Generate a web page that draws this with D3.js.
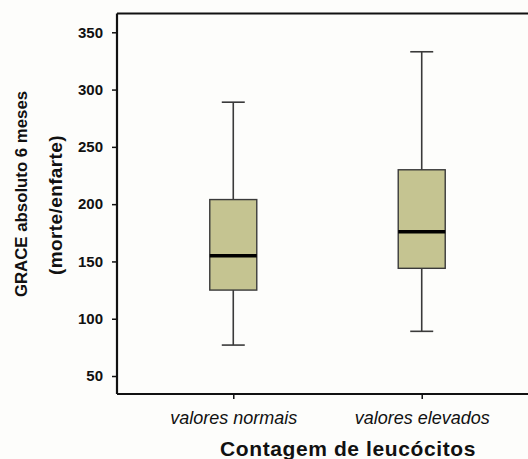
<!DOCTYPE html>
<html>
<head>
<meta charset="utf-8">
<script src="https://cdn.jsdelivr.net/npm/d3@7"></script>
<style>
  body { margin: 0; background: #fdfdfb; }
  svg { display: block; }
  text { font-family: "Liberation Sans", Arial, sans-serif; fill: #111; }
</style>
</head>
<body>
<div id="chart"></div>
<script>
// categories and box statistics
var groups = ["valores normais", "valores elevados"];
var whiskerLow  = [77, 89];
var q1          = [125, 144];
var median      = [155, 176];
var q3          = [204, 230];
var whiskerHigh = [289, 333];
var yTicks = [50, 100, 150, 200, 250, 300, 350];

var width = 528, height = 459;
var margin = {top: 13.5, left: 117, bottom: 394, right: 538};

var svg = d3.select("#chart").append("svg")
	.attr("width", width)
	.attr("height", height);

svg.append("rect")
	.attr("width", width).attr("height", height)
	.attr("fill", "#fdfdfb");

var x = d3.scalePoint()
	.domain(groups)
	.range([margin.left, margin.right])
	.padding(0.617);

var y = d3.scaleLinear()
	.domain([34.3, 366.4])
	.range([margin.bottom, margin.top]);

var boxW = 47, capW = 23;

var data = groups.map(function(g, i) {
	return {g: g, lo: whiskerLow[i], q1: q1[i], med: median[i], q3: q3[i], hi: whiskerHigh[i]};
});

// top frame line
svg.append("line")
	.attr("x1", margin.left).attr("x2", width)
	.attr("y1", margin.top).attr("y2", margin.top)
	.attr("stroke", "#111").attr("stroke-width", 2.2);

//Y axis
var yAxis = svg.append("g")
	.attr("transform", "translate(" + margin.left + ",0)")
	.call(d3.axisLeft(y).tickValues(yTicks).tickSize(5).tickPadding(9));
yAxis.select(".domain").attr("stroke", "#111").attr("stroke-width", 2.2)
	.attr("d", "M0," + margin.top + "V" + margin.bottom);
yAxis.selectAll(".tick line").attr("stroke", "#111").attr("stroke-width", 1.5);
yAxis.selectAll(".tick text")
	.style("font-family", "'Liberation Sans', Arial, sans-serif")
	.style("font-weight", "bold")
	.style("font-size", "15px")
	.attr("fill", "#222");

//X axis
var xAxis = svg.append("g")
	.attr("transform", "translate(0," + margin.bottom + ")")
	.call(d3.axisBottom(x).tickSize(5).tickPadding(12));
xAxis.select(".domain").attr("stroke", "#111").attr("stroke-width", 2.2)
	.attr("d", "M" + margin.left + ",0H" + width);
xAxis.selectAll(".tick line").attr("stroke", "#111").attr("stroke-width", 1.5);
xAxis.selectAll(".tick text")
	.style("font-family", "'Liberation Sans', Arial, sans-serif")
	.style("font-style", "italic")
	.style("font-size", "18px")
	.attr("fill", "#222");

//Boxes
var box = svg.selectAll(".box")
	.data(data)
	.enter().append("g")
	.attr("class", "box");

box.append("line")
	.attr("x1", function(d) {return x(d.g);})
	.attr("x2", function(d) {return x(d.g);})
	.attr("y1", function(d) {return y(d.hi);})
	.attr("y2", function(d) {return y(d.lo);})
	.attr("stroke", "#3a3a3a").attr("stroke-width", 1.6);

box.selectAll(".cap")
	.data(function(d) {return [{g: d.g, v: d.lo}, {g: d.g, v: d.hi}];})
	.enter().append("line")
	.attr("class", "cap")
	.attr("x1", function(d) {return x(d.g) - capW / 2;})
	.attr("x2", function(d) {return x(d.g) + capW / 2;})
	.attr("y1", function(d) {return y(d.v);})
	.attr("y2", function(d) {return y(d.v);})
	.attr("stroke", "#3a3a3a").attr("stroke-width", 1.6);

box.append("rect")
	.attr("x", function(d) {return x(d.g) - boxW / 2;})
	.attr("width", boxW)
	.attr("y", function(d) {return y(d.q3);})
	.attr("height", function(d) {return y(d.q1) - y(d.q3);})
	.attr("fill", "#c5c491")
	.attr("stroke", "#3a3a3a").attr("stroke-width", 1.4);

box.append("line")
	.attr("x1", function(d) {return x(d.g) - boxW / 2;})
	.attr("x2", function(d) {return x(d.g) + boxW / 2;})
	.attr("y1", function(d) {return y(d.med);})
	.attr("y2", function(d) {return y(d.med);})
	.attr("stroke", "#000").attr("stroke-width", 3.5);

//Axis titles
svg.append("text")
	.attr("x", 348).attr("y", 456)
	.attr("text-anchor", "middle")
	.style("font-weight", "bold")
	.style("font-size", "21px")
	.style("letter-spacing", "0.6px")
	.text("Contagem de leucócitos");

svg.append("text")
	.attr("transform", "translate(27,194) rotate(-90)")
	.attr("text-anchor", "middle")
	.style("font-weight", "bold")
	.style("font-size", "16.8px")
	.text("GRACE absoluto 6 meses");

svg.append("text")
	.attr("transform", "translate(62,205) rotate(-90)")
	.attr("text-anchor", "middle")
	.style("font-weight", "bold")
	.style("font-size", "19px")
	.style("letter-spacing", "0.4px")
	.text("(morte/enfarte)");
</script>
</body>
</html>
